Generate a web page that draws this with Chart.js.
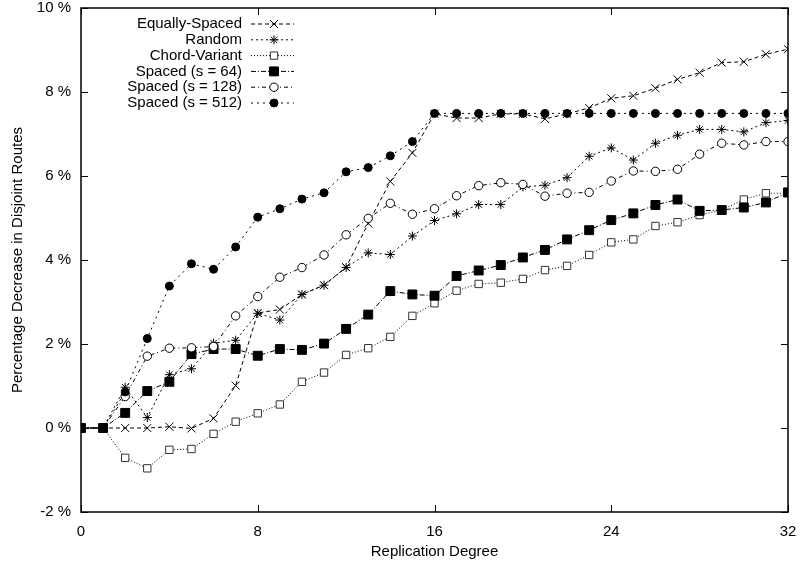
<!DOCTYPE html>
<html>
<head>
<meta charset="utf-8">
<script src="https://cdn.jsdelivr.net/npm/chart.js@4/dist/chart.umd.min.js"></script>
<style>
  html, body { margin: 0; padding: 0; background: #fff; }
  #wrap { width: 801px; height: 565px; }
</style>
</head>
<body>
<div id="wrap"><canvas id="chart" width="801" height="565"></canvas></div>
<script>
// grado di replicazione (asse x)
const degrees = [0, 1, 2, 3, 4, 5, 6, 7, 8, 9, 10, 11, 12, 13, 14, 15, 16,
  17, 18, 19, 20, 21, 22, 23, 24, 25, 26, 27, 28, 29, 30, 31, 32];

const equallySpaced = [0, 0, 0, 0, 0.03, -0.01, 0.23, 1.01, 2.74, 2.82, 3.18, 3.40, 3.83, 4.87, 5.87, 6.55,
  7.48, 7.38, 7.38, 7.48, 7.48, 7.36, 7.48, 7.62, 7.85, 7.91, 8.09, 8.30, 8.46, 8.70, 8.72, 8.90, 9.02];
const random = [0, 0, 0.97, 0.25, 1.27, 1.41, 2.02, 2.09, 2.73, 2.57, 3.18, 3.40, 3.82, 4.17, 4.13, 4.57,
  4.94, 5.10, 5.32, 5.32, 5.74, 5.78, 5.96, 6.47, 6.67, 6.38, 6.78, 6.97, 7.11, 7.11, 7.05, 7.27, 7.32];
const chordVariant = [0, 0, -0.71, -0.96, -0.52, -0.50, -0.14, 0.15, 0.35, 0.56, 1.10, 1.32, 1.74, 1.90, 2.17, 2.67,
  2.97, 3.27, 3.43, 3.46, 3.55, 3.76, 3.86, 4.12, 4.42, 4.49, 4.81, 4.90, 5.07, 5.19, 5.44, 5.59, 5.59];
const spaced64 = [0, 0, 0.36, 0.88, 1.10, 1.76, 1.88, 1.88, 1.72, 1.88, 1.86, 2.01, 2.36, 2.70, 3.26, 3.18,
  3.15, 3.62, 3.75, 3.88, 4.06, 4.24, 4.49, 4.71, 4.95, 5.11, 5.31, 5.44, 5.17, 5.19, 5.25, 5.37, 5.61];
const spaced128 = [0, 0, 0.75, 1.71, 1.90, 1.91, 1.94, 2.67, 3.13, 3.59, 3.82, 4.12, 4.60, 4.99, 5.35, 5.09,
  5.22, 5.53, 5.77, 5.84, 5.80, 5.52, 5.59, 5.61, 5.88, 6.12, 6.11, 6.16, 6.52, 6.78, 6.74, 6.82, 6.82];
const spaced512 = [0, 0, 0.86, 2.13, 3.38, 3.91, 3.78, 4.31, 5.02, 5.22, 5.45, 5.60, 6.10, 6.20, 6.48, 6.82,
  7.49, 7.49, 7.49, 7.49, 7.49, 7.49, 7.49, 7.49, 7.49, 7.49, 7.49, 7.49, 7.49, 7.49, 7.49, 7.49, 7.49];

const seriesLabels = ["Equally-Spaced", "Random", "Chord-Variant",
  "Spaced (s = 64)", "Spaced (s = 128)", "Spaced (s = 512)"];
const xTicks = [0, 8, 16, 24, 32];

const FONT = "'Liberation Sans', Arial, Helvetica, sans-serif";
const FSIZE = 15;

const toPoints = (ys) => ys.map((y, i) => ({ x: degrees[i], y: y }));

const mkSet = (label, ys, dash, style, fill, radius, border) => ({
  label: label,
  data: toPoints(ys),
  borderColor: "#000",
  borderWidth: 1,
  borderDash: dash,
  fill: false,
  tension: 0,
  pointStyle: style,
  pointRadius: radius,
  pointBorderWidth: 1,
  pointBorderColor: border || "#000",
  pointBackgroundColor: fill,
});

const datasets = [
  mkSet(seriesLabels[0], equallySpaced, [4, 3], "crossRot", "#000", 5.7),
  mkSet(seriesLabels[1], random, [2, 3], "star", "#000", 4.5),
  mkSet(seriesLabels[2], chordVariant, [1, 2], "rect", "#fff", 5.2, "#333"),
  mkSet(seriesLabels[3], spaced64, [5, 2, 1, 2], "rect", "#000", 6.3),
  mkSet(seriesLabels[4], spaced128, [4, 3, 1, 3], "circle", "#fff", 4.2),
  mkSet(seriesLabels[5], spaced512, [2, 4], "circle", "#000", 4),
];
// gnuplot draws later series on top
datasets.forEach((d, i) => { d.order = datasets.length - i; });

// cornice, tacche interne e legenda stile gnuplot
const frame = {
  id: "frame",
  afterDraw(chart) {
    const ctx = chart.ctx;
    const a = chart.chartArea;
    const xs = chart.scales.x, ys = chart.scales.y;
    ctx.save();
    ctx.strokeStyle = "#000";
    ctx.lineWidth = 1.5;
    ctx.setLineDash([]);
    ctx.strokeRect(a.left, a.top, a.right - a.left, a.bottom - a.top);
    ctx.lineWidth = 1;
    xs.ticks.forEach((t) => {
      const px = Math.round(xs.getPixelForValue(t.value)) + 0.5;
      ctx.beginPath();
      ctx.moveTo(px, a.bottom); ctx.lineTo(px, a.bottom - 7);
      ctx.moveTo(px, a.top); ctx.lineTo(px, a.top + 7);
      ctx.stroke();
    });
    ys.ticks.forEach((t) => {
      const py = Math.round(ys.getPixelForValue(t.value)) + 0.5;
      ctx.beginPath();
      ctx.moveTo(a.left, py); ctx.lineTo(a.left + 7, py);
      ctx.moveTo(a.right, py); ctx.lineTo(a.right - 7, py);
      ctx.stroke();
    });

    // legenda
    ctx.font = FSIZE + "px " + FONT;
    ctx.textAlign = "right";
    ctx.textBaseline = "middle";
    chart.data.datasets.forEach((d, i) => {
      const y = 24 + i * 15.8;
      ctx.fillStyle = "#000";
      ctx.fillText(d.label, 242, y);
      ctx.strokeStyle = "#000";
      ctx.lineWidth = 1;
      ctx.setLineDash(d.borderDash);
      ctx.beginPath();
      ctx.moveTo(251, y); ctx.lineTo(294, y);
      ctx.stroke();
      ctx.setLineDash([]);
      ctx.fillStyle = d.pointBackgroundColor;
      ctx.strokeStyle = d.pointBorderColor;
      Chart.helpers.drawPoint(ctx, {
        pointStyle: d.pointStyle, radius: d.pointRadius, rotation: 0, borderWidth: 1,
      }, 274, y);
    });
    ctx.restore();
  },
};

new Chart(document.getElementById("chart").getContext("2d"), {
  type: "line",
  data: { datasets: datasets },
  options: {
    responsive: false,
    animation: false,
    layout: { padding: { top: 8, right: 13, left: 0, bottom: 0 } },
    plugins: { legend: { display: false }, tooltip: { enabled: false } },
    scales: {
      x: {
        type: "linear",
        min: 0, max: 32,
        afterBuildTicks: (s) => { s.ticks = xTicks.map((v) => ({ value: v })); },
        afterFit: (s) => { s.height = 53; s.paddingLeft = 0; s.paddingRight = 0; },
        grid: { display: false, drawTicks: false },
        border: { display: false },
        ticks: { color: "#000", font: { family: FONT, size: FSIZE }, padding: 11, maxRotation: 0 },
        title: { display: true, text: "Replication Degree", color: "#000",
          font: { family: FONT, size: FSIZE }, padding: { top: 1 } },
      },
      y: {
        min: -2, max: 10,
        afterFit: (s) => { s.width = 81; s.paddingTop = 0; s.paddingBottom = 0; },
        grid: { display: false, drawTicks: false },
        border: { display: false },
        ticks: { stepSize: 2, color: "#000", font: { family: FONT, size: FSIZE }, padding: 10,
          callback: (v) => v + " %" },
        title: { display: true, text: "Percentage Decrease in Disjoint Routes", color: "#000",
          font: { family: FONT, size: FSIZE }, padding: { top: 9, bottom: 0 } },
      },
    },
  },
  plugins: [frame],
});
</script>
</body>
</html>
